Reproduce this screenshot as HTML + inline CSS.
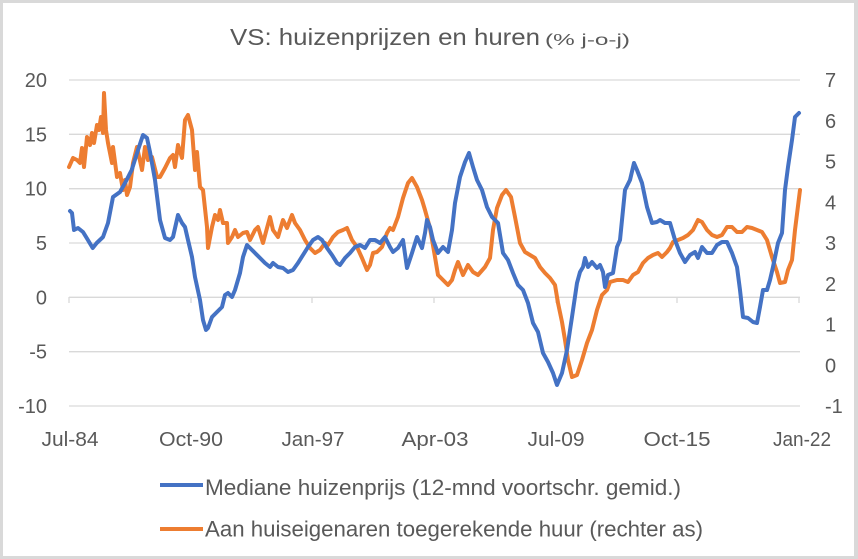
<!DOCTYPE html>
<html><head><meta charset="utf-8"><style>
html,body{margin:0;padding:0;background:#fff;}
svg{display:block;}
text{font-family:"Liberation Sans",sans-serif;fill:#595959;}
</style></head><body>
<svg width="858" height="559" viewBox="0 0 858 559" xmlns="http://www.w3.org/2000/svg">
<rect x="0" y="0" width="858" height="559" fill="#fff"/>
<rect x="1.5" y="1.5" width="854" height="556" fill="none" stroke="#d9d9d9" stroke-width="3"/>
<line x1="856" y1="0" x2="856" y2="559" stroke="#d9d9d9" stroke-width="4"/>

<text x="230" y="45" font-size="23" textLength="310" lengthAdjust="spacingAndGlyphs">VS: huizenprijzen en huren</text>
<text x="545" y="45" font-size="16" textLength="85" lengthAdjust="spacingAndGlyphs">(% j-o-j)</text>

<g stroke="#d9d9d9" stroke-width="1.3">
<line x1="69" y1="80" x2="800" y2="80"/>
<line x1="69" y1="134.3" x2="800" y2="134.3"/>
<line x1="69" y1="188.7" x2="800" y2="188.7"/>
<line x1="69" y1="243" x2="800" y2="243"/>
<line x1="69" y1="297.3" x2="800" y2="297.3"/>
<line x1="69" y1="351.7" x2="800" y2="351.7"/>
<line x1="69" y1="406" x2="800" y2="406"/>
<line x1="69" y1="297" x2="69" y2="303"/>
<line x1="191" y1="297" x2="191" y2="303"/>
<line x1="312" y1="297" x2="312" y2="303"/>
<line x1="434" y1="297" x2="434" y2="303"/>
<line x1="556" y1="297" x2="556" y2="303"/>
<line x1="677" y1="297" x2="677" y2="303"/>
<line x1="799" y1="297" x2="799" y2="303"/>
</g>

<g font-size="20" text-anchor="end">
<text x="47" y="87">20</text>
<text x="47" y="141.3">15</text>
<text x="47" y="195.7">10</text>
<text x="47" y="250">5</text>
<text x="47" y="304.3">0</text>
<text x="47" y="358.7">-5</text>
<text x="47" y="413">-10</text>
</g>
<g font-size="20">
<text x="825" y="87">7</text>
<text x="825" y="127.8">6</text>
<text x="825" y="168.5">5</text>
<text x="825" y="209.3">4</text>
<text x="825" y="250">3</text>
<text x="825" y="290.8">2</text>
<text x="825" y="331.5">1</text>
<text x="825" y="372.3">0</text>
<text x="825" y="413">-1</text>
</g>
<g font-size="20" text-anchor="middle">
<text x="70" y="446" textLength="57" lengthAdjust="spacingAndGlyphs">Jul-84</text>
<text x="191" y="446" textLength="64" lengthAdjust="spacingAndGlyphs">Oct-90</text>
<text x="313" y="446" textLength="63" lengthAdjust="spacingAndGlyphs">Jan-97</text>
<text x="435" y="446" textLength="67" lengthAdjust="spacingAndGlyphs">Apr-03</text>
<text x="556" y="446" textLength="57" lengthAdjust="spacingAndGlyphs">Jul-09</text>
<text x="677" y="446" textLength="67" lengthAdjust="spacingAndGlyphs">Oct-15</text>
<text x="802" y="446" textLength="58" lengthAdjust="spacingAndGlyphs">Jan-22</text>
</g>

<polyline fill="none" stroke="#ED7D31" stroke-width="4" stroke-linejoin="round" stroke-linecap="round" points="69,167 73,158 77,160 80,163 82,148 84,167 87,137 90,145 92,133 94,143 97,125 99,130 101,117 103,133 104,93 106,130 108,143 112,163 113,147 117,177 120,173 123,190 125,180 127,195 130,187 133,163 137,147 142,170 145,147 148,160 152,157 157,177 160,177 165,168 170,158 173,155 175,167 178,145 182,158 185,120 188,115 192,130 195,170 197,152 200,187 203,190 207,227 208,248 212,227 215,215 218,220 220,210 223,223 227,223 228,243 232,237 235,230 238,237 243,233 247,232 250,240 255,230 258,227 263,243 267,228 270,217 273,230 278,237 283,220 287,228 292,215 295,223 300,230 305,240 310,248 315,253 320,250 325,243 328,245 333,237 338,232 343,230 347,228 352,240 357,247 362,258 367,270 370,265 373,253 377,252 382,247 387,233 390,228 393,230 398,217 403,198 408,183 412,178 417,187 422,200 425,210 430,228 435,257 438,275 443,280 448,285 452,280 455,270 458,262 463,275 468,265 473,272 478,275 485,267 490,258 493,230 497,208 502,195 506,190 511,197 515,217 520,243 525,252 530,255 535,258 540,267 545,273 550,278 555,285 558,303 562,322 565,340 568,360 572,377 577,375 582,360 587,343 592,330 597,310 602,295 607,290 610,282 617,280 623,280 628,282 633,275 638,272 643,263 648,258 653,255 658,253 662,257 667,252 670,248 673,242 678,240 683,238 688,235 693,230 698,220 702,222 707,230 712,235 717,237 722,235 727,227 732,227 737,232 742,232 747,227 752,228 757,230 762,232 767,240 772,257 777,272 780,283 785,282 788,270 792,260 795,230 800,190"/>

<polyline fill="none" stroke="#4472C4" stroke-width="4" stroke-linejoin="round" stroke-linecap="round" points="70,211 72,213 74,230 78,228 83,232 86.7,238 92.7,248 96.7,243 103,237 108,223 113,197 120,192 125,183 131.7,170 138,150 143,135 147,138 150,152 155,180 160,220 165,238 170,240 173,237 178,215 182,223 185,227 188,240 192,257 195,277 200,300 203,320 206,330 208,328 212,317 217,312 222,307 225,295 228,293 232,297 235,290 240,273 243,257 247,245 252,250 255,253 260,258 265,263 270,267 273,263 278,267 283,268 288,272 293,270 298,263 303,255 308,247 313,240 318,237 322,240 327,248 332,255 337,263 340,265 345,258 350,253 355,247 360,245 365,248 370,240 375,240 380,243 385,237 390,247 393,252 398,248 403,240 407,268 412,253 417,237 422,248 425,233 427,220 430,227 433,240 438,253 443,247 448,252 452,230 455,203 460,177 465,162 469,153 473,167 477,180 482,190 487,207 492,217 498,223 503,253 508,260 513,273 518,285 523,290 528,303 533,323 538,332 543,353 548,362 553,373 557,385 562,373 567,350 572,317 577,283 580,272 583,267 585,258 588,267 592,262 597,268 600,265 603,272 605,287 608,275 613,273 617,247 620,240 625,190 630,180 634,163 637,170 642,183 647,207 652,223 657,222 660,220 665,223 670,223 675,240 680,253 685,262 690,255 695,252 698,258 702,247 707,253 712,253 717,245 722,242 727,242 732,253 737,267 740,290 743,317 748,318 753,322 757,323 760,307 763,290 767,290 770,280 773,267 778,243 782,233 785,190 788,167 792,140 795,117 799,113"/>

<line x1="160" y1="485" x2="203" y2="485" stroke="#4472C4" stroke-width="4"/>
<text x="205" y="495" font-size="22" textLength="476" lengthAdjust="spacingAndGlyphs">Mediane huizenprijs (12-mnd voortschr. gemid.)</text>
<line x1="160" y1="529" x2="203" y2="529" stroke="#ED7D31" stroke-width="4"/>
<text x="205" y="536.5" font-size="22" textLength="498" lengthAdjust="spacingAndGlyphs">Aan huiseigenaren toegerekende huur (rechter as)</text>
</svg>
</body></html>
